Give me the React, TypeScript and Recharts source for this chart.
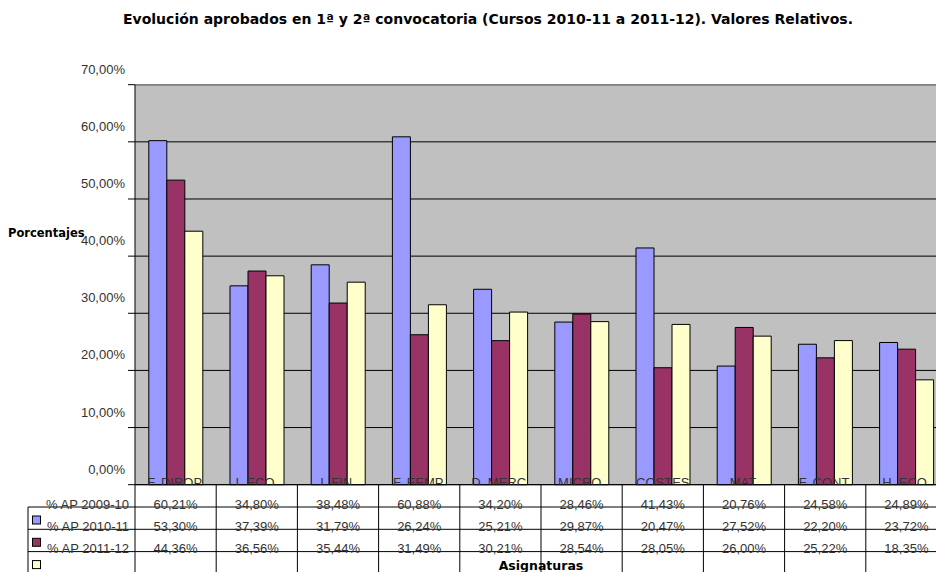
import { BarChart, Bar, XAxis, YAxis, CartesianGrid, ReferenceLine } from 'recharts';

const categories = ['F. DIROP.', 'I. ECO.', 'I. FIN.', 'F. EEMP.', 'D. MERC.', 'MICRO.', 'COSTES', 'MAT.', 'F. CONT.', 'H. ECO.'];
const ap0910 = [60.21, 34.8, 38.48, 60.88, 34.2, 28.46, 41.43, 20.76, 24.58, 24.89];
const ap1011 = [53.3, 37.39, 31.79, 26.24, 25.21, 29.87, 20.47, 27.52, 22.2, 23.72];
const ap1112 = [44.36, 36.56, 35.44, 31.49, 30.21, 28.54, 28.05, 26.0, 25.22, 18.35];
const seriesNames = ['% AP 2009-10', '% AP 2010-11', '% AP 2011-12'];
const seriesColors = ['#9999FF', '#993366', '#FFFFCC'];
const yTicks = [0, 10, 20, 30, 40, 50, 60, 70];

const data = categories.map((name, i) => ({
  name,
  ap0910: ap0910[i],
  ap1011: ap1011[i],
  ap1112: ap1112[i],
}));
const seriesValues = [ap0910, ap1011, ap1112];

// chart is a bit wider than the window, the last column gets cut like in the original
const W = 947;
const H = 572;
const PLOT_LEFT = 135;
const Y_AXIS_W = 60;
const PLOT_TOP = 84.7;
const PLOT_BOTTOM = 484.7;
const COL = (W - PLOT_LEFT) / categories.length;
const ROW = 22.3;
const FONT = '"Liberation Sans", Arial, sans-serif';
const TITLE_FONT = '"DejaVu Sans", sans-serif';

const fmt = (v: number) => v.toFixed(2).replace('.', ',') + '%';

const YTick = (props: any) => {
  const { x, y, payload } = props;
  return (
    <text x={x} y={y - 11} textAnchor="end" fontFamily={FONT} fontSize={13} fill="#333">
      {fmt(payload.value)}
    </text>
  );
};

const XTick = (props: any) => {
  const { x, y, index } = props;
  const left = x - COL / 2;
  const right = x + COL / 2;
  const txt = { fontFamily: FONT, fontSize: 13, fill: '#333' };
  return (
    <g>
      {index === 0 && (
        <g>
          <defs>
            <clipPath id="plotClip">
              <rect x={0} y={0} width={W} height={y} />
            </clipPath>
          </defs>
          {[1, 2, 3].map((r) => (
            <line key={r} x1={28} x2={W} y1={y + r * ROW} y2={y + r * ROW} stroke="#000" />
          ))}
          <line x1={28} x2={28} y1={y + ROW} y2={H} stroke="#000" />
          <line x1={left} x2={left} y1={y} y2={H} stroke="#000" />
          {seriesNames.map((n, i) => (
            <text key={n} x={129} y={y + i * ROW + 24} textAnchor="end" {...txt}>
              {n}
            </text>
          ))}
          {seriesColors.map((c, i) => (
            <rect key={c} x={32.5} y={y + (i + 1) * ROW + 9} width={8} height={8} fill={c} stroke="#000" />
          ))}
          <text
            x={PLOT_LEFT + (W - PLOT_LEFT) / 2}
            y={H - 2}
            textAnchor="middle"
            fontFamily={TITLE_FONT}
            fontSize={12.5}
            fontWeight="bold"
            fill="#000"
          >
            Asignaturas
          </text>
        </g>
      )}
      <line x1={right} x2={right} y1={y} y2={H} stroke="#000" />
      <text x={x} y={y + 2} textAnchor="middle" clipPath="url(#plotClip)" {...txt}>
        {categories[index]}
      </text>
      {seriesValues.map((vals, i) => (
        <text key={i} x={x} y={y + i * ROW + 24} textAnchor="middle" {...txt}>
          {fmt(vals[index])}
        </text>
      ))}
    </g>
  );
};

export default function App() {
  return (
    <div style={{ position: 'absolute', left: 0, top: 0, width: 936, height: H, overflow: 'hidden', background: '#fff' }}>
      <div
        style={{
          position: 'absolute',
          left: 0,
          width: 976,
          top: 11,
          textAlign: 'center',
          fontFamily: TITLE_FONT,
          fontWeight: 'bold',
          fontSize: 14,
          color: '#000',
        }}
      >
        Evolución aprobados en 1ª y 2ª convocatoria (Cursos 2010-11 a 2011-12). Valores Relativos.
      </div>
      <div
        style={{
          position: 'absolute',
          left: 8,
          top: 226,
          fontFamily: TITLE_FONT,
          fontWeight: 'bold',
          fontSize: 11.5,
          color: '#000',
        }}
      >
        Porcentajes
      </div>
      <BarChart
        width={W}
        height={H}
        data={data}
        margin={{ top: PLOT_TOP, right: 0, left: PLOT_LEFT - Y_AXIS_W, bottom: 0 }}
        barCategoryGap="17%"
        barGap={0}
      >
        <CartesianGrid vertical={false} stroke="#000" fill="#C0C0C0" fillOpacity={1} />
        <ReferenceLine y={70} stroke="#808080" strokeWidth={1.5} />
        <YAxis
          width={Y_AXIS_W}
          domain={[0, 70]}
          ticks={yTicks}
          interval={0}
          tickSize={7}
          tickMargin={3}
          stroke="#000"
          tick={<YTick />}
        />
        <Bar dataKey="ap0910" fill={seriesColors[0]} stroke="#000" strokeWidth={1} isAnimationActive={false} />
        <Bar dataKey="ap1011" fill={seriesColors[1]} stroke="#000" strokeWidth={1} isAnimationActive={false} />
        <Bar dataKey="ap1112" fill={seriesColors[2]} stroke="#000" strokeWidth={1} isAnimationActive={false} />
        <XAxis
          dataKey="name"
          height={H - PLOT_BOTTOM}
          interval={0}
          tickSize={0}
          tickMargin={0}
          stroke="#000"
          tick={<XTick />}
        />
      </BarChart>
    </div>
  );
}
